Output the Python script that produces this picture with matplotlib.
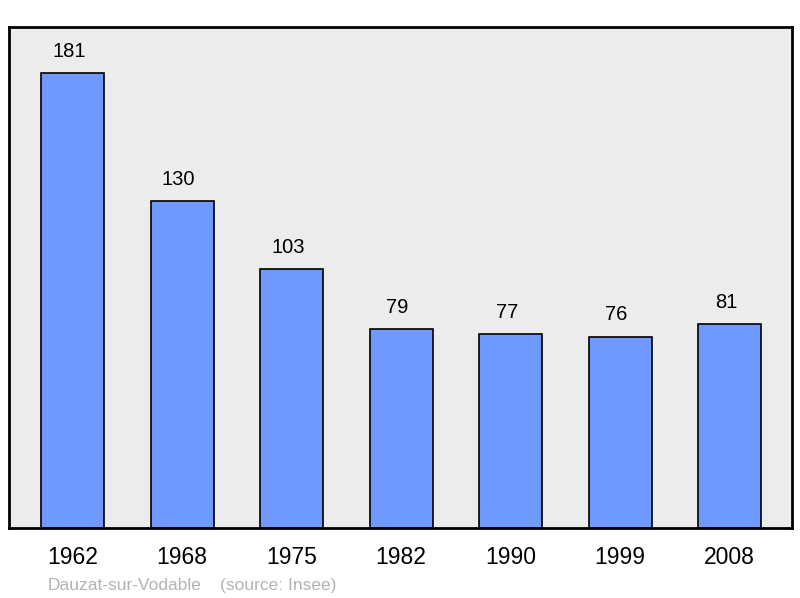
import numpy as np
from matplotlib import pyplot as plt

years = ['1962', '1968', '1975', '1982', '1990', '1999', '2008']
population = [181, 130, 103, 79, 77, 76, 81]

plt.rcParams['font.family'] = ['Liberation Sans', 'DejaVu Sans']

f = plt.figure(figsize=[8, 5.98], dpi=100)
ax = f.add_axes([9 / 800, 70 / 598, 783 / 800, 501 / 598])
ax.set_facecolor('#ececec')

xs = np.arange(len(years))
ax.bar(xs, population, width=0.575, color='#7099ff', edgecolor='black', linewidth=1.2, zorder=2)
for x, v in zip(xs, population):
  ax.annotate(str(v), (x, v), xytext=(-2.5, 9), textcoords='offset points',
              ha='center', va='bottom', fontsize=14.5)

ax.set_xlim(-0.58, 6.57)
ax.set_ylim(0, 199.3)
ax.set_yticks([])
ax.set_xticks(xs)
ax.set_xticklabels(years, fontsize=16.5)
ax.tick_params(axis='x', length=0, pad=13)
for s in ax.spines.values():
  s.set_linewidth(2)

f.text(48 / 800, 1 - 590 / 598, 'Dauzat-sur-Vodable', color='#b3b3b3',
       fontsize=12.5, ha='left', va='baseline')
f.text(220 / 800, 1 - 590 / 598, '(source: Insee)', color='#b3b3b3',
       fontsize=12.5, ha='left', va='baseline')

plt.savefig('out.png', dpi=100)
